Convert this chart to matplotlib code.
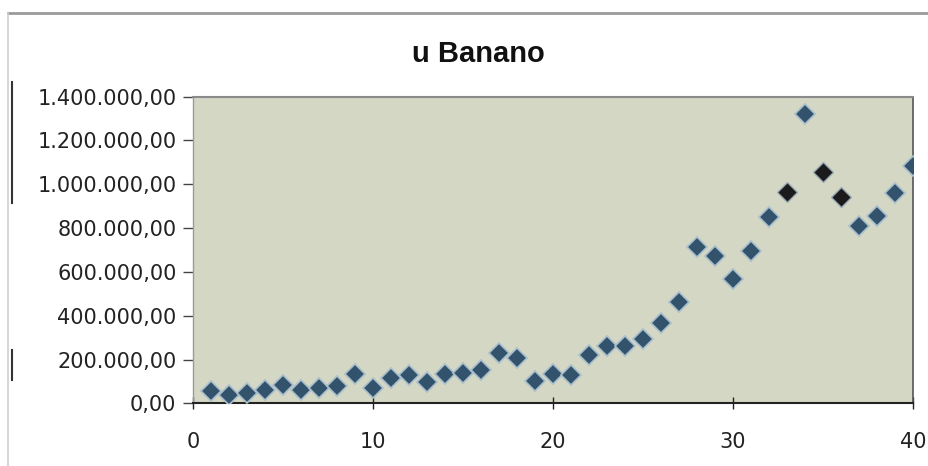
import matplotlib
matplotlib.use("Agg")
import matplotlib.pyplot as plt
from matplotlib.lines import Line2D
from matplotlib.ticker import FuncFormatter

periods = list(range(1, 41))
values = [57500, 38000, 46000, 61000, 84000, 61000, 71000, 80000, 132000, 71000,
          114000, 129000, 96000, 132000, 140000, 152000, 231000, 205000, 103000, 136000,
          129000, 220000, 263000, 263000, 294000, 365000, 464000, 715000, 674000, 566000,
          697000, 852000, 966000, 1319000, 1057000, 943000, 811000, 855000, 959000, 1083000]
dark_points = [33, 35, 36]

title = "u Banano"
x_ticks = [0, 10, 20, 30, 40]
y_ticks = [0, 200000, 400000, 600000, 800000, 1000000, 1200000, 1400000]

fig = plt.figure(figsize=(9.29, 4.66), dpi=100)
fig.patch.set_facecolor("white")
ax = fig.add_axes([0.2078, 0.1345, 0.7750, 0.6580])
ax.set_facecolor("#d5d7c5")

blue_x = [p for p in periods if p not in dark_points]
blue_y = [v for p, v in zip(periods, values) if p not in dark_points]
dark_x = [p for p in periods if p in dark_points]
dark_y = [v for p, v in zip(periods, values) if p in dark_points]

ax.plot(blue_x, blue_y, linestyle="none", marker="D", markersize=10,
        markerfacecolor="#33526c", markeredgecolor="#a9bfcc", markeredgewidth=1.2, zorder=3)
ax.plot(dark_x, dark_y, linestyle="none", marker="D", markersize=10,
        markerfacecolor="#1b1b1e", markeredgecolor="#9aaab4", markeredgewidth=1.0, zorder=3)

ax.set_xlim(0, 40)
ax.set_ylim(0, 1400000)
ax.set_xticks(x_ticks)
ax.set_yticks(y_ticks)

def fmt(v, pos):
    s = f"{v:,.2f}"
    return s.replace(",", "X").replace(".", ",").replace("X", ".")

ax.yaxis.set_major_formatter(FuncFormatter(fmt))

ax.tick_params(axis="y", direction="out", length=7, width=1, color="#444444",
               labelsize=15, pad=5, labelcolor="#222222")
ax.tick_params(axis="x", direction="inout", length=9, width=1, color="#222222",
               labelsize=15, pad=16, labelcolor="#222222")
for lab in ax.get_xticklabels() + ax.get_yticklabels():
    lab.set_fontfamily("DejaVu Sans")

ax.spines["top"].set_color("#8a8a8a")
ax.spines["top"].set_linewidth(1.5)
ax.spines["right"].set_color("#555555")
ax.spines["right"].set_linewidth(1.2)
ax.spines["left"].set_color("#9a9a9a")
ax.spines["left"].set_linewidth(1.0)
ax.spines["bottom"].set_color("#222222")
ax.spines["bottom"].set_linewidth(1.5)

fig.text(0.515, 0.885, title, ha="center", va="center", fontsize=21,
         fontweight="bold", family="Liberation Sans", color="#111111")

# frame artifacts of the original chart
fig.add_artist(Line2D([0.009, 1.0], [0.972, 0.972], color="#9a9a9a", linewidth=2.0))
fig.add_artist(Line2D([0.009, 0.009], [0.0, 0.972], color="#d0d0d0", linewidth=1.2))
fig.add_artist(Line2D([0.013, 0.013], [0.565, 0.823], color="#333333", linewidth=1.5))
fig.add_artist(Line2D([0.013, 0.013], [0.185, 0.250], color="#333333", linewidth=1.5))

fig.savefig("out.png", dpi=100, facecolor="white")
